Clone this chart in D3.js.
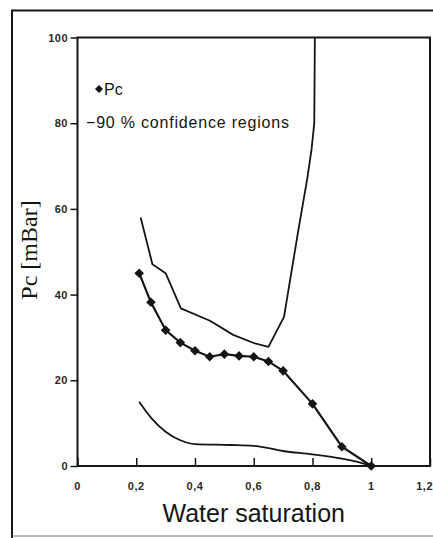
<!DOCTYPE html>
<html><head><meta charset="utf-8">
<script src="https://cdn.jsdelivr.net/npm/d3@7"></script>
<style>html,body{margin:0;padding:0;background:#fff;}svg{display:block;}</style>
</head><body>
<script>
// Data
const pcX = [0.21, 0.25, 0.30, 0.35, 0.40, 0.45, 0.50, 0.55, 0.60, 0.65, 0.70, 0.80, 0.90, 1.00];
const pcY = [45.0, 38.2, 31.7, 28.8, 26.9, 25.5, 26.1, 25.7, 25.5, 24.4, 22.2, 14.5, 4.5, 0];
const upperX = [0.215, 0.255, 0.30, 0.352, 0.451, 0.53, 0.60, 0.65, 0.703, 0.752, 0.782, 0.797, 0.806, 0.808];
const upperY = [58.0, 47.1, 45.0, 36.8, 33.9, 30.6, 28.7, 27.8, 34.8, 55.1, 67, 74, 80, 100];
const lowerX = [0.21, 0.25, 0.30, 0.35, 0.40, 0.52, 0.60, 0.70, 0.80, 0.90, 0.95, 1.00];
const lowerY = [15.0, 11.3, 8.0, 6.0, 5.1, 4.9, 4.7, 3.5, 2.7, 1.7, 1.0, 0];
const xTicks = [0, 0.2, 0.4, 0.6, 0.8, 1, 1.2];
const yTicks = [0, 20, 40, 60, 80, 100];
const xTitle = "Water saturation";
const yTitle = "Pc [mBar]";
const legendLabels = ["Pc", "\u221290 % confidence regions"];

const W = 433, H = 538;
const svg = d3.select("body").append("svg").attr("width", W).attr("height", H);
const ink = "#151515";

// outer frame
svg.append("path").attr("d", `M12,540 L12,10.5 L440,10.5`).attr("fill", "none").attr("stroke", ink).attr("stroke-width", 2);
svg.append("line").attr("x1", 12).attr("x2", 440).attr("y1", 536).attr("y2", 536).attr("stroke", "#777").attr("stroke-width", 1.2);

const x = d3.scaleLinear().domain([0, 1.2]).range([77.5, 430]);
const y = d3.scaleLinear().domain([0, 100]).range([466, 37.5]);

// plot box
svg.append("rect").attr("x", x(0)).attr("y", y(100)).attr("width", x(1.2) - x(0)).attr("height", y(0) - y(100))
  .attr("fill", "none").attr("stroke", ink).attr("stroke-width", 2);

const fmt = d => String(d).replace(".", ",");

// x axis (ticks inward)
const gx = svg.append("g").attr("transform", `translate(0,${y(0)})`)
  .call(d3.axisTop(x).tickValues(xTicks).tickSize(8).tickFormat(""));
gx.select(".domain").remove();
gx.selectAll(".tick line").attr("stroke", ink).attr("stroke-width", 1.5);
svg.append("g").selectAll("text").data(xTicks).join("text")
  .attr("x", d => d === 1.2 ? 433 : x(d)).attr("y", 490).attr("text-anchor", d => d === 1.2 ? "end" : "middle")
  .attr("font-family", "Liberation Sans, Arial, sans-serif").attr("font-size", 11).attr("font-weight", "bold")
  .attr("letter-spacing", 0.5).attr("fill", "#2a2a2a").text(fmt);

// y axis (ticks outward)
const gy = svg.append("g").attr("transform", `translate(${x(0)},0)`)
  .call(d3.axisLeft(y).tickValues(yTicks).tickSize(7).tickFormat(""));
gy.select(".domain").remove();
gy.selectAll(".tick line").attr("stroke", ink).attr("stroke-width", 1.5);
svg.append("g").selectAll("text").data(yTicks).join("text")
  .attr("x", 68).attr("y", d => y(d) + 4).attr("text-anchor", "end")
  .attr("font-family", "Liberation Sans, Arial, sans-serif").attr("font-size", 11).attr("font-weight", "bold")
  .attr("letter-spacing", 0.5).attr("fill", "#2a2a2a").text(d => d);

// titles
svg.append("text").attr("x", (x(0) + x(1.2)) / 2).attr("y", 522).attr("text-anchor", "middle")
  .attr("font-family", "Liberation Sans, Arial, sans-serif").attr("font-size", 25).attr("fill", ink).text(xTitle);
svg.append("text").attr("transform", `translate(37,250) rotate(-90)`).attr("text-anchor", "middle")
  .attr("font-family", "Liberation Serif, Times New Roman, serif").attr("font-size", 24).attr("fill", ink).text(yTitle);

// lines
const line = d3.line().x(d => x(d[0])).y(d => y(d[1]));
const zip = (a, b) => a.map((v, i) => [v, b[i]]);
const sw = 1.8;
svg.append("path").datum(zip(upperX, upperY)).attr("d", line).attr("fill", "none").attr("stroke", ink).attr("stroke-width", sw).attr("stroke-linejoin", "round");
svg.append("path").datum(zip(lowerX, lowerY)).attr("d", d3.line().x(d => x(d[0])).y(d => y(d[1])).curve(d3.curveMonotoneX)).attr("fill", "none").attr("stroke", ink).attr("stroke-width", sw);
const pcData = zip(pcX, pcY);
svg.append("path").datum(pcData).attr("d", line).attr("fill", "none").attr("stroke", ink).attr("stroke-width", sw + 0.4);
svg.append("g").selectAll("path").data(pcData).join("path")
  .attr("d", d3.symbol().type(d3.symbolSquare).size(46)).attr("transform", d => `translate(${x(d[0])},${y(d[1])}) rotate(45)`)
  .attr("fill", ink);

// legend
svg.append("path").attr("d", d3.symbol().type(d3.symbolSquare).size(32)).attr("transform", "translate(99,89) rotate(45)").attr("fill", ink);
svg.append("text").attr("x", 104).attr("y", 95).attr("font-family", "Liberation Sans, Arial, sans-serif").attr("font-size", 16).attr("fill", ink).text(legendLabels[0]);
svg.append("text").attr("x", 86).attr("y", 128).attr("font-family", "Liberation Sans, Arial, sans-serif").attr("font-size", 16).attr("letter-spacing", 0.8).attr("fill", ink).text(legendLabels[1]);
</script>
</body></html>
